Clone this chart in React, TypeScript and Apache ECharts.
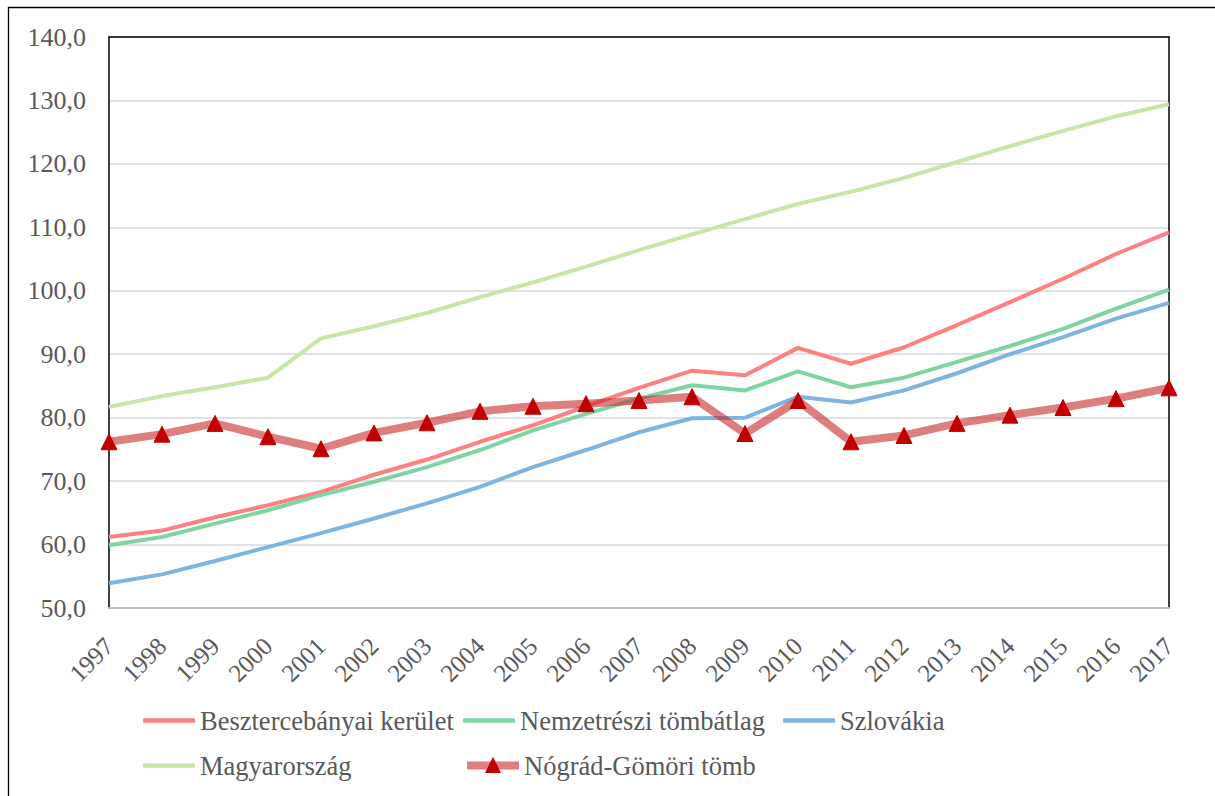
import React, { useEffect, useRef } from "react";
import * as echarts from "echarts";

const years = ["1997","1998","1999","2000","2001","2002","2003","2004","2005","2006","2007","2008","2009","2010","2011","2012","2013","2014","2015","2016","2017"];
const besztercebanyai = [61.2, 62.2, 64.3, 66.2, 68.3, 71.0, 73.4, 76.2, 78.8, 81.8, 84.7, 87.4, 86.7, 91.0, 88.5, 91.1, 94.6, 98.2, 101.9, 105.8, 109.2];
const nemzetreszi = [59.9, 61.2, 63.3, 65.4, 67.8, 69.9, 72.2, 74.9, 78.0, 80.6, 83.0, 85.1, 84.3, 87.3, 84.8, 86.3, 88.8, 91.3, 94.0, 97.2, 100.2];
const szlovakia = [53.9, 55.3, 57.4, 59.6, 61.8, 64.1, 66.5, 69.1, 72.2, 74.9, 77.7, 79.9, 80.0, 83.3, 82.4, 84.3, 87.0, 90.0, 92.7, 95.6, 98.1];
const magyarorszag = [81.7, 83.4, 84.8, 86.3, 92.5, 94.4, 96.5, 99.0, 101.3, 103.8, 106.4, 108.9, 111.3, 113.7, 115.6, 117.8, 120.3, 122.8, 125.2, 127.5, 129.4];
const nogradGomori = [76.2, 77.4, 79.1, 77.0, 75.1, 77.6, 79.2, 81.0, 81.8, 82.2, 82.7, 83.3, 77.5, 82.7, 76.2, 77.2, 79.1, 80.4, 81.6, 83.0, 84.7];

const names = ["Besztercebányai kerület", "Nemzetrészi tömbátlag", "Szlovákia", "Magyarország", "Nógrád-Gömöri tömb"];

const FONT = "'Liberation Serif', 'Times New Roman', Times, serif";
const TEXT = "#595959";

export default function App() {
  const ref = useRef<HTMLDivElement>(null);
  useEffect(() => {
    if (!ref.current) return;
    const chart = echarts.init(ref.current, null, { renderer: "svg" });
    const legendCommon = {
      orient: "horizontal",
      itemWidth: 52,
      itemGap: 0,
      textStyle: { fontFamily: FONT, fontSize: 26.5, color: TEXT },
      padding: 0,
    };
    const plainLegend = (name: string, left: number, top: number) => ({
      ...legendCommon,
      itemHeight: 4.5,
      data: [{ name, icon: "roundRect" }],
      left,
      top,
    });
    const lineSeries = (name: string, data: number[], color: string) => ({
      name,
      type: "line",
      data,
      symbol: "none",
      showSymbol: false,
      lineStyle: { color, width: 4 },
      itemStyle: { color },
      z: 2,
    });
    chart.setOption({
      animation: false,
      backgroundColor: "#ffffff",
      graphic: [
        {
          type: "rect",
          shape: { x: 8.5, y: 7.5, width: 1400, height: 1000 },
          style: { fill: "none", stroke: "#000", lineWidth: 1.3 },
          silent: true,
        },
      ],
      grid: { left: 109, right: 46, top: 37, bottom: 188, containLabel: false },
      legend: [
        plainLegend(names[0], 143, 707),
        plainLegend(names[1], 463, 707),
        plainLegend(names[2], 783, 707),
        plainLegend(names[3], 143, 752),
        {
          ...legendCommon,
          itemHeight: 16,
          lineStyle: { width: 8 },
          data: [names[4]],
          left: 463,
          top: 752,
        },
      ],
      xAxis: [
        {
          type: "category",
          data: years,
          boundaryGap: false,
          axisLine: { show: true, lineStyle: { color: "#bfbfbf", width: 2 } },
          axisTick: { show: false },
          axisLabel: {
            rotate: 45,
            margin: 34,
            interval: 0,
            fontFamily: FONT,
            fontSize: 25,
            color: TEXT,
          },
          splitLine: { show: false },
        },
        {
          type: "category",
          data: years,
          boundaryGap: false,
          position: "top",
          axisLine: { show: true, lineStyle: { color: "#000", width: 1.5 } },
          axisTick: { show: false },
          axisLabel: { show: false },
        },
      ],
      yAxis: [
        {
          type: "value",
          min: 50,
          max: 140,
          interval: 10,
          axisLine: { show: true, lineStyle: { color: "#000", width: 1.5 } },
          axisTick: { show: false },
          axisLabel: {
            margin: 23,
            fontFamily: FONT,
            fontSize: 26,
            color: TEXT,
            formatter: (v: number) => v.toFixed(1).replace(".", ","),
          },
          splitLine: { show: true, lineStyle: { color: "#d9d9d9", width: 1.5 } },
        },
        {
          type: "value",
          min: 50,
          max: 140,
          interval: 10,
          position: "right",
          axisLine: { show: true, lineStyle: { color: "#000", width: 1.5 } },
          axisTick: { show: false },
          axisLabel: { show: false },
          splitLine: { show: false },
        },
      ],
      series: [
        lineSeries(names[0], besztercebanyai, "#ff8080"),
        lineSeries(names[1], nemzetreszi, "#80d4a2"),
        lineSeries(names[2], szlovakia, "#7fb4de"),
        lineSeries(names[3], magyarorszag, "#c8e6a6"),
        {
          name: names[4],
          type: "line",
          data: nogradGomori,
          symbol: "triangle",
          symbolSize: 16,
          showSymbol: true,
          lineStyle: { color: "rgba(200,40,40,0.6)", width: 8 },
          itemStyle: { color: "#c00000", borderColor: "#c00000", borderWidth: 1 },
          z: 3,
        },
      ],
    });
    return () => chart.dispose();
  }, []);
  return (
    <div
      ref={ref}
      style={{ position: "absolute", left: 0, top: 0, width: 1215, height: 796 }}
    />
  );
}
